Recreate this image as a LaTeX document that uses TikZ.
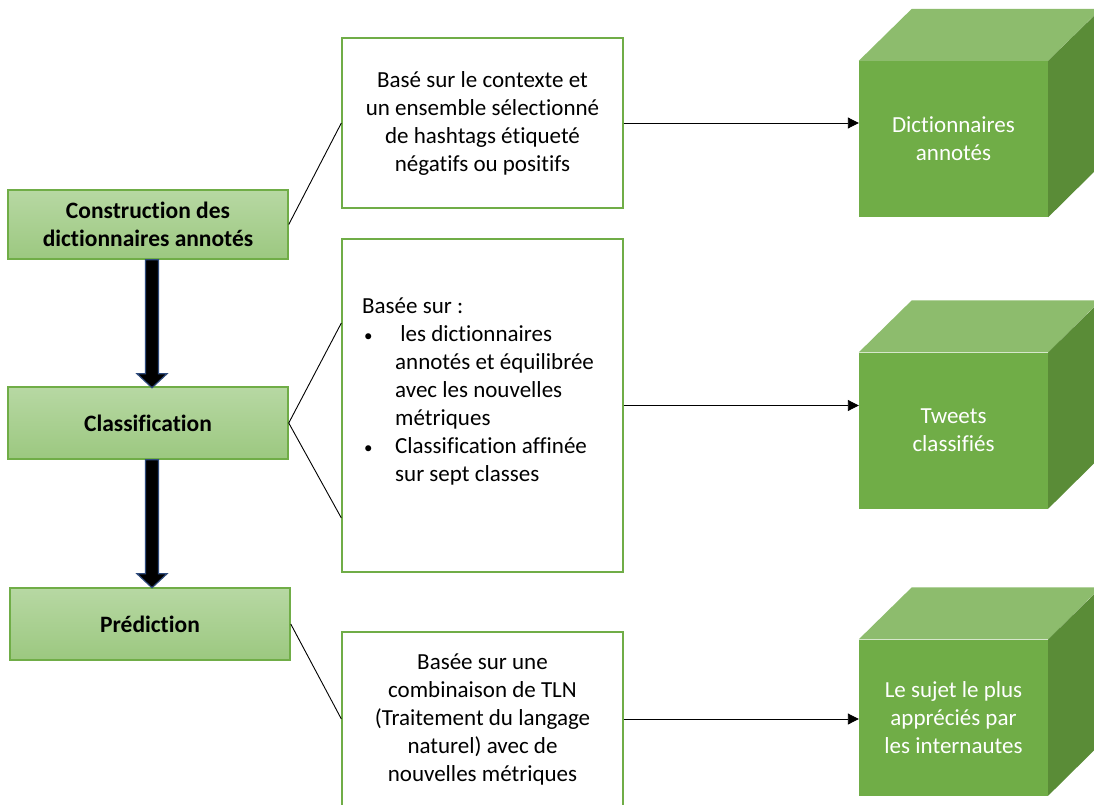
\documentclass[tikz,border=0pt]{standalone}
\usepackage{fontspec}
\setmainfont{Carlito}[Ligatures={NoCommon}]
\usetikzlibrary{calc,arrows.meta}
\definecolor{gborder}{HTML}{70AD47}
\definecolor{lboxtop}{HTML}{B7D8A3}
\definecolor{lboxbot}{HTML}{9CC880}
\definecolor{cubefront}{HTML}{70AD47}
\definecolor{cubetop}{HTML}{8DBC6D}
\definecolor{cuberight}{HTML}{5A8C37}
\definecolor{arrowedge}{HTML}{2F4B7C}
\tikzset{
  txt/.style={font=\fontsize{23}{28}\selectfont},
  lbox/.style={draw=gborder, line width=1.5pt, top color=lboxtop, bottom color=lboxbot,
    minimum width=280pt, align=center, inner sep=0pt,
    font=\fontsize{23.5}{28}\selectfont\bfseries},
  mbox/.style={draw=gborder, line width=1.3pt, fill=white, minimum width=281pt,
    align=center, inner sep=0pt, txt},
  cubebox/.style={fill=cubefront, minimum width=189pt, minimum height=156pt,
    text=white, align=center, inner sep=0pt, txt},
  link/.style={line width=0.9pt, black},
  flow/.style={line width=0.9pt, black, -{Triangle[length=11pt,width=11pt]}},
  bigarrow/.style={fill=black, draw=arrowedge, line width=1.2pt, line join=miter}
}
\newcommand{\cubefaces}[1]{%
  \fill[cubetop] (#1.north west) -- ++(53,-52) -- ++(189,0) -- (#1.north east) -- cycle;
  \fill[cuberight] (#1.north east) -- ++(53,-52) -- ++(0,156) -- (#1.south east) -- cycle;
}
\newcommand{\smallbullet}{\hspace{2pt}{\fontsize{17}{28}\selectfont\textbullet}}
\begin{document}
\begin{tikzpicture}[x=1pt,y=-1pt]
\useasboundingbox (0,0) rectangle (1094,805);
\fill[white] (0,0) rectangle (1094,805);

% left boxes
\node[lbox, minimum height=69pt] (b1) at (148,224.5) {Construction des\\dictionnaires annotés};
\node[lbox, minimum height=72pt] (b2) at (148,423) {Classification};
\node[lbox, minimum height=72pt] (b3) at (150,624) {Prédiction};

% thick arrows
\draw[bigarrow] ($(b1.south)+(-2.5,0)$) -- ++(13,0) -- ++(0,114) -- ++(8.5,0) -- ++(-15,14) -- ++(-15,-14) -- ++(8.5,0) -- cycle;
\draw[bigarrow] ($(b2.south)+(-2.5,0)$) -- ++(13,0) -- ++(0,114) -- ++(8.5,0) -- ++(-15,14) -- ++(-15,-14) -- ++(8.5,0) -- cycle;

% middle boxes
\node[mbox, minimum height=170pt] (m1) at (482.5,123) {Basé sur le contexte et\\un ensemble sélectionné\\de hashtags étiqueté\\négatifs ou positifs};
\node[mbox, minimum height=333pt] (m2) at (482.5,405.5) {};
\node[txt, anchor=north west, inner sep=0pt] (m2t) at (362,293.8) {%
  \begin{tabular}{@{}p{33pt}@{}l@{}}
  \multicolumn{2}{@{}l@{}}{Basée sur :}\\
  \smallbullet & \ les dictionnaires\\
  & annotés et équilibrée\\
  & avec les nouvelles\\
  & métriques\\
  \smallbullet & Classification affinée\\
  & sur sept classes
  \end{tabular}};
\node[mbox, minimum height=174pt] (m3) at (482.5,719) {Basée sur une\\combinaison de TLN\\(Traitement du langage\\naturel) avec de\\nouvelles métriques};

% cubes
\node[cubebox] (c1) at (953.5,139) {Dictionnaires\\annotés};
\cubefaces{c1}
\node[cubebox] (c2) at (953.5,430.5) {Tweets\\classifiés};
\cubefaces{c2}
\node[cubebox] (c3) at (953.5,717.5) {Le sujet le plus\\appréciés par\\les internautes};
\cubefaces{c3}

% links
\coordinate (m2a) at ($(m2.west)+(0,-82.5)$);
\coordinate (m2b) at ($(m2.west)+(0,112.5)$);
\draw[link] (b1.east) -- (m1.west);
\draw[link] (m2a) -- (b2.east) -- (m2b);
\draw[link] (b3.east) -- (m3.west);

% flows
\draw[flow] (m1.east) -- (m1.east -| c1.west);
\draw[flow] (m2.east) -- (m2.east -| c2.west);
\draw[flow] (m3.east) -- (m3.east -| c3.west);
\end{tikzpicture}
\end{document}
